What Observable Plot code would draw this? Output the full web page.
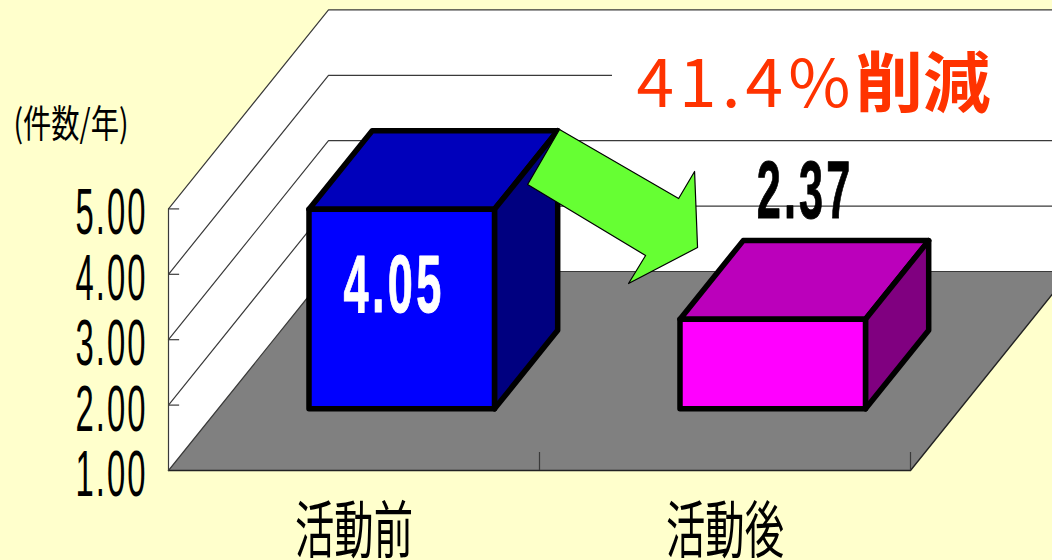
<!DOCTYPE html>
<html>
<head>
<meta charset="utf-8">
<style>html,body{margin:0;padding:0;background:#FFFFCC;overflow:hidden}svg{display:block}</style>
<script src="https://cdn.jsdelivr.net/npm/d3@7"></script>
<script src="https://cdn.jsdelivr.net/npm/@observablehq/plot@0.6"></script>
</head>
<body>
<script>
// Data
const categories = ["活動前", "活動後"];
const values = [4.05, 2.37];
const valueLabels = ["4.05", "2.37"];
const yTicks = [1, 2, 3, 4, 5];
const unitLabel = "(件数/年)";
const reduction = "41.4%削減";

// Colours per bar: front, top, side
const frontColors = ["#0000FF", "#FF00FF"];
const topColors = ["#0000BB", "#BB00BB"];
const sideColors = ["#000080", "#800080"];

// Chart geometry, in data units (categories on x, value on y)
const PXU = 371, PYU = 65.4;        // scale sizes of one unit
const depthX = 160 / PXU, depthY = 199 / PYU; // oblique depth vector
const barFront = 0.31, barBack = 0.705, barHalf = 0.25, barShift = -0.005;
const xDomain = [-168 / PXU, (1052 - 168) / PXU];
const yDomain = [1 - 90 / PYU, 1 + 470 / PYU];
const p = (c, v, d = 0) => ({x: c + d * depthX, y: v + d * depthY});

// Annotation arrow outline, in data units
const arrowX = [1.054, 1.375, 1.418, 1.426, 1.240, 1.286, 0.968];
const arrowY = [6.214, 5.159, 5.572, 4.410, 3.859, 4.287, 5.373];
const arrow = arrowX.map((x, i) => ({x, y: arrowY[i]}));

const gray = "#3a3a3a";
const poly = (pts, o) => Plot.line(pts, {x: "x", y: "y", curve: "linear-closed", ...o});
const fit = (len, spacing) => (index, scales, vals, dims, ctx, next) => {
  const g = next(index, scales, vals, dims, ctx);
  const t = d3.select(g).selectAll("text").attr("textLength", len).attr("lengthAdjust", "spacingAndGlyphs");
  if (spacing) t.style("letter-spacing", spacing + "px");
  return g;
};
// Same fit, with the latin part spaced out and the kanji part bold
const fitMixed = (len) => (index, scales, vals, dims, ctx, next) => {
  const g = next(index, scales, vals, dims, ctx);
  d3.select(g).selectAll("text").each(function () {
    const s = this.textContent, k = s.indexOf("%") + 1;
    const t = d3.select(this).text(null).attr("textLength", len).attr("lengthAdjust", "spacingAndGlyphs");
    t.append("tspan").style("letter-spacing", "5px").text(s.slice(0, k));
    t.append("tspan").attr("font-weight", "bold").text(s.slice(k));
  });
  return g;
};

const wallRight = 2.4;
const marks = [
  // walls
  poly([p(0, 1), p(0, 5), p(0, 5, 1), p(wallRight, 5, 1), p(wallRight, 1, 1), p(0, 1, 1)], {fill: "#FFFFFF"}),
  // floor
  poly([p(0, 1), p(2, 1), p(2, 1, 1), p(0, 1, 1)], {fill: "#808080"}),
  // depth + back grid lines
  ...yTicks.map(v => Plot.line([p(0, v), p(0, v, 1), p(wallRight, v, 1)], {x: "x", y: "y", stroke: gray, strokeWidth: 1.2})),
  // floor right edge and front
  Plot.line([p(0, 1), p(2, 1), p(2, 1, 1)], {x: "x", y: "y", stroke: "#222", strokeWidth: 1.4}),
  // left axis and ticks
  Plot.line([p(0, 1), p(0, 5)], {x: "x", y: "y", stroke: gray, strokeWidth: 1.2}),
  Plot.ruleY(yTicks.slice(1), {x1: 0, x2: 0.03, y: d => d, stroke: gray, strokeWidth: 1.2}),
  // category ticks
  Plot.ruleX([1, 2], {x: d => d, y1: 1, y2: 1 + 18 / PYU, stroke: gray, strokeWidth: 1.2}),
  // box that hides a grid line behind the annotation
  Plot.rect([0], {x1: (612 - 168) / PXU, x2: xDomain[1], y1: 1 + (470 - 120) / PYU, y2: 1 + (470 - 45) / PYU, fill: "#FFFFFF"})
];

values.forEach((v, i) => {
  const c = i + 0.5 + barShift, L = c - barHalf, R = c + barHalf;
  const o = {stroke: "#000", strokeWidth: 5.5, strokeLinejoin: "round"};
  marks.push(
    poly([p(L, v, barFront), p(R, v, barFront), p(R, v, barBack), p(L, v, barBack)], {fill: topColors[i], ...o}),
    poly([p(R, 1, barFront), p(R, v, barFront), p(R, v, barBack), p(R, 1, barBack)], {fill: sideColors[i], ...o}),
    poly([p(L, 1, barFront), p(R, 1, barFront), p(R, v, barFront), p(L, v, barFront)], {fill: frontColors[i], ...o})
  );
});

marks.push(
  poly(arrow, {fill: "#66FF33", stroke: "#000", strokeWidth: 1.2}),
  // value labels
  Plot.text([0], {x: 0.608, y: 3.83, text: () => valueLabels[0], fill: "#FFF", stroke: "#FFF", strokeWidth: 1, fontFamily: "Liberation Sans Narrow, Liberation Sans", fontWeight: "bold", fontSize: 82, render: fit(101, 6)}),
  Plot.text([0], {x: 1.716, y: 5.266, text: () => valueLabels[1], fill: "#000", stroke: "#000", strokeWidth: 1, fontFamily: "Liberation Sans Narrow, Liberation Sans", fontWeight: "bold", fontSize: 82, render: fit(97, 6)}),
  // annotation
  Plot.text([0], {x: (813 - 168) / PXU, y: 1 + (470 - 85) / PYU, text: () => reduction, fill: "#FF3300", fontFamily: "Noto Sans CJK JP", fontSize: 66, render: fitMixed(354)}),
  // y tick labels
  Plot.text(yTicks, {x: 0, y: d => d, text: d => d.toFixed(2), dx: -21, dy: 5, textAnchor: "end", fill: "#000", fontFamily: "Liberation Sans Narrow, Liberation Sans", fontSize: 64, render: fit(72, 4)}),
  // unit label
  Plot.text([0], {x: (13 - 168) / PXU, y: 1 + (470 - 124) / PYU, text: () => unitLabel, textAnchor: "start", fill: "#000", fontFamily: "Noto Sans CJK JP", fontSize: 38, render: fit(115)}),
  // category labels
  Plot.text(categories, {x: (d, i) => i + 0.5, y: 1, text: d => d, dy: 63, fill: "#000", fontFamily: "Noto Sans CJK JP", fontSize: 62, render: fit(118)})
);

const chart = Plot.plot({
  width: 1052,
  height: 560,
  margin: 0,
  x: {type: "linear", domain: xDomain, range: [0, 1052], axis: null},
  y: {type: "linear", domain: yDomain, range: [560, 0], axis: null},
  style: {background: "#FFFFCC"},
  marks
});
document.body.appendChild(chart);
</script>
</body>
</html>
